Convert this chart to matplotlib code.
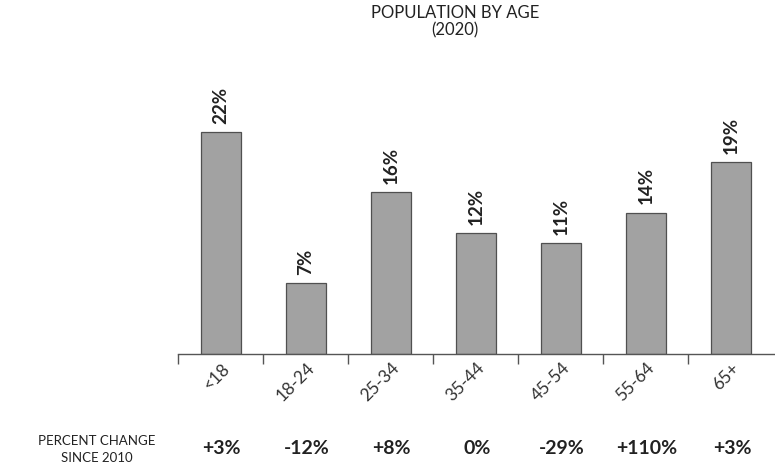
import matplotlib
matplotlib.use("Agg")
import matplotlib.pyplot as plt
import numpy as np

plt.rcParams['font.family'] = ['Lato', 'DejaVu Sans']

# population share by age group, 2020
age_groups = ['<18', '18-24', '25-34', '35-44', '45-54', '55-64', '65+']
share_2020 = [22, 7, 16, 12, 11, 14, 19]
change_since_2010 = ['+3%', '-12%', '+8%', '0%', '-29%', '+110%', '+3%']

fig = plt.figure(figsize=(7.75, 4.73), dpi=100)
ax = fig.add_axes([0.2303, 0.2516, 0.7697, 0.534])

x = np.arange(len(age_groups))
ax.bar(x, share_2020, width=0.47, color='#a2a2a2', edgecolor='#505050',
       linewidth=0.9, zorder=2)

ax.set_xlim(-0.5, 6.52)
ax.set_ylim(0, 25)

# value labels above the bars
for xi, v in zip(x, share_2020):
    ax.text(xi, v + 0.8, f'{v}%', rotation=90, ha='center', va='bottom',
            fontsize=13.5, fontweight='bold', color='#222222')

# category labels, slanted
for xi, lab in zip(x, age_groups):
    ax.text(xi + 0.14, -0.6, lab, rotation=45, ha='right', va='top',
            fontsize=12.5, color='#333333')

# baseline with ticks at category boundaries
for side in ['top', 'right', 'left']:
    ax.spines[side].set_visible(False)
ax.spines['bottom'].set_color('#555555')
ax.spines['bottom'].set_linewidth(1.0)
ax.set_yticks([])
ax.set_xticks(np.arange(-0.5, 6, 1.0))
ax.set_xticklabels([])
ax.tick_params(axis='x', direction='out', length=7, width=1.0,
               color='#555555')

# percent change row
fig.text(97 / 775, 1 - 449 / 473, 'PERCENT CHANGE\nSINCE 2010', ha='center',
         va='center', fontsize=9.5, color='#222222', linespacing=1.5)
for xi, c in zip(x, change_since_2010):
    px = (178.5 + (xi + 0.5) * 85.2) / 775
    fig.text(px, 1 - 448 / 473, c, ha='center', va='center', fontsize=14,
             fontweight='bold', color='#222222')

fig.text(455 / 775, 1 - 22 / 473, 'POPULATION BY AGE\n(2020)', ha='center',
         va='center', fontsize=12, color='#222222', linespacing=1.1)

fig.savefig('out.png', dpi=100)
